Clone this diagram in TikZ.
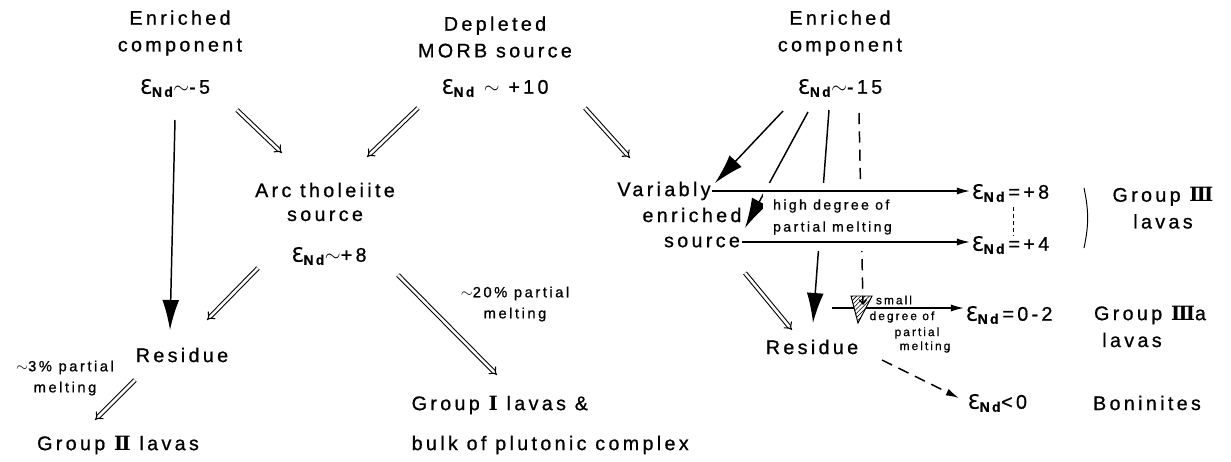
\documentclass[tikz,border=0pt]{standalone}
\usepackage{fontspec}
\setmainfont{Liberation Sans}[LetterSpace=17, FakeBold=0.8]
\newfontfamily\epsfont{DejaVu Sans}[FakeBold=0.8]
\newfontfamily\romfont{DejaVu Serif}
\usetikzlibrary{arrows.meta,calc,patterns}
\newcommand{\eNd}{{\epsfont Ɛ}\textsubscript{\bfseries Nd}}
\newcommand{\romnum}[1]{{\romfont\bfseries #1}}

\begin{document}
\begin{tikzpicture}[x=0.025cm, y=-0.025cm,
    big/.style={font=\fontsize{14}{19}\selectfont, inner sep=1pt, align=center},
    note/.style={font=\fontsize{10.5}{15}\selectfont, inner sep=1pt, align=center},
    fine/.style={font=\fontsize{8.5}{10}\selectfont, inner sep=1pt},
    dbl/.style={double, double distance=1.8pt, line width=0.75pt, -{Implies[scale=1.5]}},
    heavy/.style={line width=1.05pt, -{Latex[length=0.75cm,width=0.42cm]}},
    flow/.style={line width=1.05pt, -{Latex[length=0.33cm,width=0.18cm]}},
    dashline/.style={line width=1.05pt, dash pattern=on 8pt off 5pt}]
      \useasboundingbox (0,0) rectangle (1231,461);

      \node[big] (enrA) at (180,33) {Enriched\\component};
      \node[big] (enrAe) at (175,88) {\eNd$\sim$-5};
      \node[big] (depl) at (495,37) {Depleted\\MORB source};
      \node[big] (deplE) at (495,88) {\eNd\ $\sim$ +10};
      \node[big] (enrB) at (840,33) {Enriched\\component};
      \node[big] (enrBe) at (840,88) {\eNd$\sim$-15};

      \node[big] (arc) at (325,202) {Arc tholeiite\\[-2pt]source};
      \node[big] (arcE) at (329,256) {\eNd$\sim$+8};
      \node[big] (resL) at (182,355) {Residue};
      \node[note] (meltL) at (65,378) {$\sim$3\% partial\\melting};
      \node[big] (grpII) at (118,445) {Group \romnum{Ⅱ} lavas};
      \node[note] (meltM) at (515,304) {$\sim$20\% partial\\melting};
      \node[big, anchor=west] (grpI) at (410,405) {Group \romnum{Ⅰ} lavas \&};
      \node[big, anchor=west] (bulk) at (410,445) {bulk of plutonic complex};

      \node[big] (varA) at (664,191) {Variably};
      \node[big] (varB) at (692,215) {enriched};
      \node[big] (varC) at (702,242) {source};
      \node[big, anchor=west] (e8) at (970,193) {\eNd\,=+8};
      \node[big, anchor=west] (e4) at (970,245) {\eNd\,=+4};
      \node[big] (grpIII) at (1163,208) {Group \romnum{Ⅲ}\\lavas};
      \node[big] (resR) at (812,347) {Residue};
      \node[fine] (smallT) at (894,300) {small};
      \node[fine] (deg1) at (902,317) {degree of};
      \node[fine] (deg2) at (917,333) {partial};
      \node[fine] (deg3) at (925,347) {melting};
      \node[big, anchor=west] (e02) at (964,315) {\eNd\,=0-2};
      \node[big] (grpIIIa) at (1150,315) {Group \romnum{Ⅲ}a};
      \node[big] (lavIIIa) at (1132,340) {lavas};
      \node[big, anchor=west] (e0) at (966,403) {\eNd<0};
      \node[big] (boni) at (1147,403) {Boninites};

      \draw[heavy] ($(enrAe)+(0,32)$) -- ($(resL)+(-12,-25)$);
      \draw[dbl] ($(enrAe)+(62,22)$) -- ($(arc)+(-43,-49)$);
      \draw[dbl] ($(deplE)+(-77,20)$) -- ($(arc)+(42,-45)$);
      \draw[dbl] ($(deplE)+(90,20)$) -- ($(varA)+(-34,-33)$);
      \draw[dbl] ($(arcE)+(-71,12)$) -- ($(resL)+(25,-35)$);
      \draw[dbl] ($(arcE)+(69,19)$) -- ($(grpI.west)+(87,-30)$);
      \draw[dbl] ($(resL)+(-47,25)$) -- ($(grpII)+(-23,-25)$);
      \draw[dbl] ($(varC)+(43,31)$) -- ($(resR)+(-20,-17)$);

      \coordinate (rr) at ($(resR)+(20,-39)$);
      \draw[flow] (rr) -- (rr -| e02.west);
      \draw[line width=0.7pt, preaction={fill=white}, pattern=north east lines]
        ($(resR)+(39,-51)$) -- ($(resR)+(60,-51)$) -- ($(resR)+(46,-24)$) -- cycle;
      \draw[dashline, -{Straight Barb[length=3pt,width=5pt]}] ($(enrBe)+(19,25)$) -- ($(resR)+(51,-42)$);
      \draw[dashline, flow] ($(resR)+(70,13)$) -- ($(e0.west)+(-7,-5)$);

      \draw[heavy] ($(enrBe)+(-11,22)$) -- ($(resR)+(1,-24)$);
      \draw[heavy] ($(enrBe)+(-32,24)$) -- ($(varB)+(53,13)$);
      \draw[heavy] ($(enrBe)+(-57,23)$) -- ($(varA)+(51,-8)$);

      \node[note, font=\fontsize{10}{15.6}\selectfont, fill=white, anchor=west, align=left,
            inner xsep=7pt, inner ysep=12pt] (hdeg) at (763,217) {high degree of\\partial melting};
      \draw[flow] (varA.east) -- (varA.east -| e8.west);
      \draw[flow] (varC.east) -- (varC.east -| e4.west);
      \draw[line width=0.7pt, dash pattern=on 3pt off 2pt] ($(e8.west)+(43,14)$) -- ($(e4.west)+(43,-9)$);
      \draw[line width=0.7pt] ($(grpIII)+(-79,-20)$) to[bend left=12] ($(grpIII)+(-79,40)$);
    \end{tikzpicture}
\end{document}
